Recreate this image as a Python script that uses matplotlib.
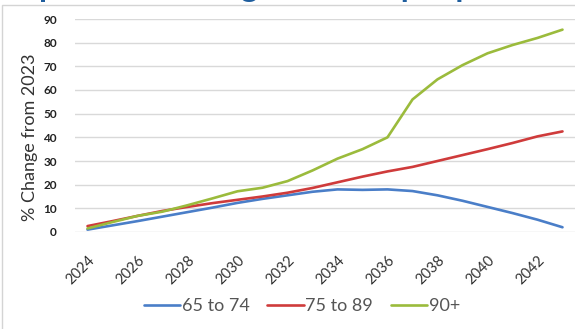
import numpy as np
import matplotlib.pyplot as plt
from matplotlib.patches import Rectangle

# Data
years = list(range(2024, 2044))
age_65_74 = [1, 2.8, 4.6, 6.5, 8.4, 10.3, 12.3, 14, 15.5, 17, 18, 17.8, 18, 17.3, 15.5, 13.2, 10.6, 8, 5.2, 2]
age_75_89 = [2.5, 4.6, 6.8, 8.9, 10.6, 12.2, 13.6, 15, 16.6, 18.6, 21, 23.4, 25.6, 27.5, 30, 32.5, 35, 37.6, 40.4, 42.5]
age_90p = [1.5, 4.2, 6.8, 8.6, 11.3, 14.2, 17.2, 18.7, 21.5, 26, 31, 35, 40, 56, 64.5, 70.5, 75.5, 79, 82, 85.5]
series_names = ['65 to 74', '75 to 89', '90+']
colors = ['#4A7EC8', '#CF3B3B', '#9BBB3C']
tick_years = years[::2]

plt.rcParams['font.family'] = ['Lato', 'DejaVu Sans']

fig = plt.figure(figsize=(5.75, 3.29), dpi=100)
fig.patch.set_facecolor('white')

# faint chart border, as in the screenshot
fig.patches.append(Rectangle((2 / 575, -0.01), 1.0, (329 - 5) / 329 + 0.01,
                             transform=fig.transFigure, fill=False,
                             edgecolor='#D4D4D4', lw=1))

# title sits above the crop, only its descenders show
fig.text(0.0, 1.009, 'Population Change in older people',
         color='#1F5E9E', fontsize=23.5, fontweight='bold', va='baseline', ha='left')

ax = fig.add_axes([75 / 575, 1 - 232 / 329, 500 / 575, 213 / 329])
x = np.arange(len(years))
for vals, name, c in zip([age_65_74, age_75_89, age_90p], series_names, colors):
    ax.plot(x, vals, color=c, lw=1.9, label=name, solid_capstyle='round')

ax.set_xlim(-0.5, len(years) - 0.5)
ax.set_ylim(0, 90)
ax.set_yticks(range(0, 91, 10))
ax.set_xticks(x[::2])
ax.set_xticklabels([str(y) for y in tick_years], rotation=45, ha='right',
                   va='top', rotation_mode='anchor')
ax.tick_params(axis='y', length=0, pad=13, labelsize=8.5, labelcolor='#222222')
ax.tick_params(axis='x', length=0, pad=15, labelsize=10.5, labelcolor='#333333')
for lab in ax.get_yticklabels():
    lab.set_fontweight('bold')
ax.grid(axis='y', color='#D9D9D9', lw=1)
ax.set_axisbelow(True)
for s in ax.spines.values():
    s.set_visible(False)

fig.text(30 / 575, 1 - 137 / 329, '% Change from 2023', rotation=90,
         ha='center', va='center', fontsize=13, color='#333333')

ax.legend(loc='center', bbox_to_anchor=(302 / 575, 1 - 306 / 329),
          bbox_transform=fig.transFigure, ncol=3, frameon=False,
          fontsize=13, labelcolor='#555555', handlelength=2.0,
          handletextpad=0.1, columnspacing=1.0)

fig.savefig('out.png', dpi=100)
